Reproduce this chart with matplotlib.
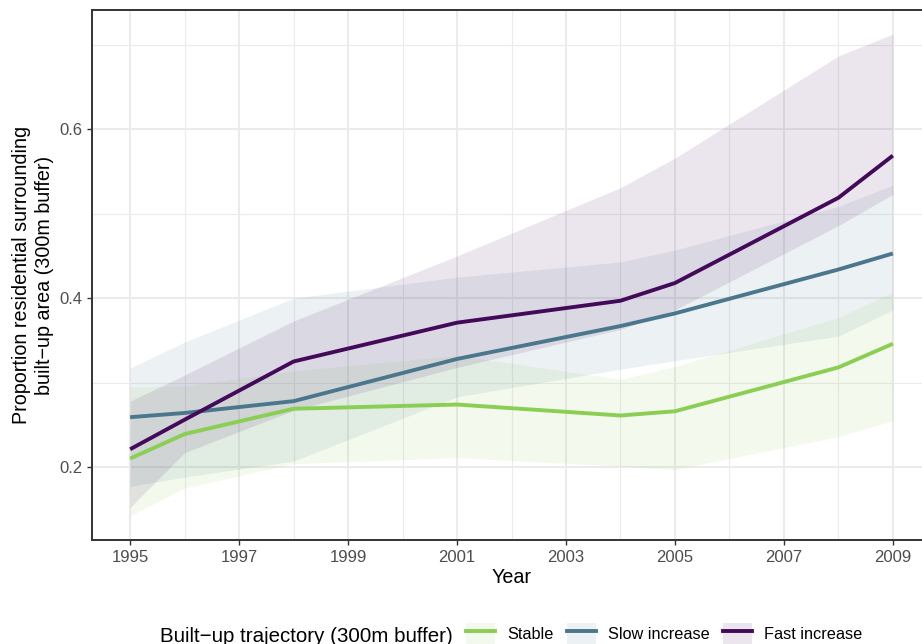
import matplotlib
matplotlib.use('Agg')
from matplotlib import pyplot as plt
from matplotlib.patches import Patch
from matplotlib.lines import Line2D

import numpy as np

plt.rcParams['font.family'] = ['Liberation Sans', 'DejaVu Sans']

# data
years = [1995, 1996, 1998, 2001, 2004, 2005, 2008, 2009]

stable_mean = [0.210, 0.239, 0.269, 0.274, 0.261, 0.266, 0.318, 0.346]
stable_lower = [0.142, 0.175, 0.204, 0.211, 0.201, 0.197, 0.236, 0.255]
stable_upper = [0.295, 0.296, 0.314, 0.332, 0.304, 0.319, 0.377, 0.407]

slow_mean = [0.259, 0.264, 0.278, 0.328, 0.367, 0.382, 0.434, 0.453]
slow_lower = [0.177, 0.188, 0.207, 0.283, 0.316, 0.326, 0.355, 0.386]
slow_upper = [0.317, 0.348, 0.400, 0.425, 0.443, 0.457, 0.509, 0.534]

fast_mean = [0.221, 0.256, 0.325, 0.371, 0.397, 0.418, 0.519, 0.569]
fast_lower = [0.152, 0.217, 0.267, 0.318, 0.363, 0.386, 0.486, 0.523]
fast_upper = [0.278, 0.309, 0.373, 0.450, 0.531, 0.566, 0.687, 0.713]

groups = ['Stable', 'Slow increase', 'Fast increase']
colors = ['#8ACE54', '#4B778D', '#440A5A']

x_major = [1995, 1997, 1999, 2001, 2003, 2005, 2007, 2009]
x_minor = [1996, 1998, 2000, 2002, 2004, 2006, 2008]
y_major = [0.2, 0.4, 0.6]
y_minor = [0.3, 0.5, 0.7]

W, H = 922, 644

def draw():
	fig = plt.figure(figsize=(W / 100, H / 100), dpi=100)
	# panel runs a little past the right edge like in the reference
	ax = fig.add_axes([92 / W, 1 - 540 / H, 839 / W, 530 / H])

	means = [stable_mean, slow_mean, fast_mean]
	lows = [stable_lower, slow_lower, fast_lower]
	highs = [stable_upper, slow_upper, fast_upper]

	# ribbons first, lines on top
	for lo, hi, c in zip(lows, highs, colors):
		ax.fill_between(years, lo, hi, color=c, alpha=0.1, linewidth=0, zorder=2)
	for m, c in zip(means, colors):
		ax.plot(years, m, color=c, linewidth=2.8, solid_capstyle='butt', zorder=3)

	ax.margins(x=0.05, y=0.05)

	ax.set_xticks(x_major)
	ax.set_xticks(x_minor, minor=True)
	ax.set_yticks(y_major)
	ax.set_yticks(y_minor, minor=True)
	ax.set_yticklabels(['0.2', '0.4', '0.6'])

	ax.grid(which='major', color='#EBEBEB', linewidth=1.45, zorder=0)
	ax.grid(which='minor', color='#EBEBEB', linewidth=0.85, zorder=0)
	ax.set_axisbelow(True)

	ax.tick_params(which='major', length=3.8, width=1.0, color='#333333',
		labelsize=12, labelcolor='#4D4D4D')
	ax.tick_params(axis='x', pad=3.4)
	ax.tick_params(axis='y', pad=2.8)
	ax.tick_params(which='minor', length=0)

	for s in ax.spines.values():
		s.set_color('#333333')
		s.set_linewidth(1.4)

	fig.text(512 / W, 1 - 583 / H, 'Year', ha='center', va='baseline', fontsize=14.2)
	fig.text(33 / W, 1 - 275 / H,
		'Proportion residential surrounding\nbuilt\u2212up area (300m buffer)',
		rotation=90, ha='center', va='center', ma='center', fontsize=14.2, linespacing=1.3)

	# legend: title on the left, keys in one row
	fig.text(160 / W, 1 - 641.5 / H, 'Built\u2212up trajectory (300m buffer)',
		ha='left', va='baseline', fontsize=14.8)
	handles = [(Patch(facecolor=c, alpha=0.1, linewidth=0), Line2D([], [], color=c, linewidth=2.8))
		for c in colors]
	fig.legend(handles, groups, loc='center left', bbox_to_anchor=(466 / W, 1 - 634 / H),
		ncol=3, frameon=False, fontsize=11.7, handlelength=1.8, handleheight=1.8,
		handletextpad=0.75, columnspacing=0.8, borderpad=0, borderaxespad=0)

	fig.savefig('out.png', dpi=100)

if __name__ == '__main__':
	draw()
